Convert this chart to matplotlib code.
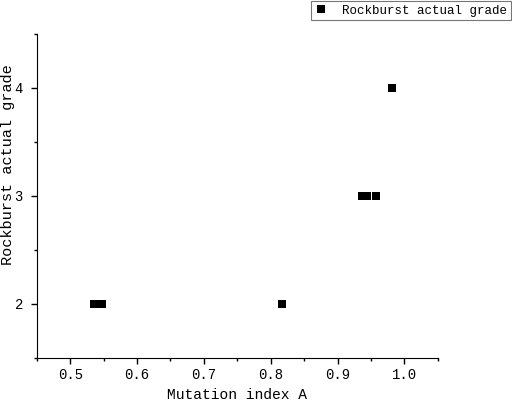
import matplotlib
matplotlib.use('Agg')
import matplotlib.pyplot as plt
from matplotlib.ticker import MultipleLocator

mutation_index = [0.535, 0.548, 0.817, 0.936, 0.944, 0.957, 0.981]
actual_grade = [2, 2, 2, 3, 3, 3, 4]

plt.rcParams['font.family'] = ['Liberation Mono', 'DejaVu Sans']

fig = plt.figure(figsize=(5.12, 4.04), dpi=100)
ax = fig.add_axes([0.072, 0.114, 0.783, 0.802])

ax.plot(mutation_index, actual_grade, 's', color='black', markersize=5.2,
        markeredgewidth=0, label='Rockburst actual grade')

ax.set_xlim(0.45, 1.05)
ax.set_ylim(1.5, 4.5)
ax.xaxis.set_major_locator(MultipleLocator(0.1))
ax.xaxis.set_minor_locator(MultipleLocator(0.05))
ax.yaxis.set_major_locator(MultipleLocator(1))
ax.yaxis.set_minor_locator(MultipleLocator(0.5))
ax.xaxis.set_major_formatter(plt.FuncFormatter(lambda v, p: f'{v:.1f}'))
ax.yaxis.set_major_formatter(plt.FuncFormatter(lambda v, p: f'{v:.0f}'))

for s in ['top', 'right']:
    ax.spines[s].set_visible(False)
ax.tick_params(direction='out', length=4, width=1, labelsize=10)
ax.tick_params(axis='y', pad=6)
ax.tick_params(which='minor', direction='out', length=2.5, width=1)

ax.set_xlabel('Mutation index A', fontsize=10.5)
ax.set_ylabel('Rockburst actual grade', fontsize=11)
ax.yaxis.set_label_coords(-0.055, 0.596)

leg = ax.legend(loc='upper right', bbox_to_anchor=(0.998, 0.998),
                bbox_transform=fig.transFigure, fancybox=False,
                edgecolor='#555555', fontsize=9, handlelength=1,
                borderpad=0.3, handletextpad=1.2, borderaxespad=0)
leg.get_frame().set_linewidth(0.8)

fig.savefig('out.png', dpi=100)
